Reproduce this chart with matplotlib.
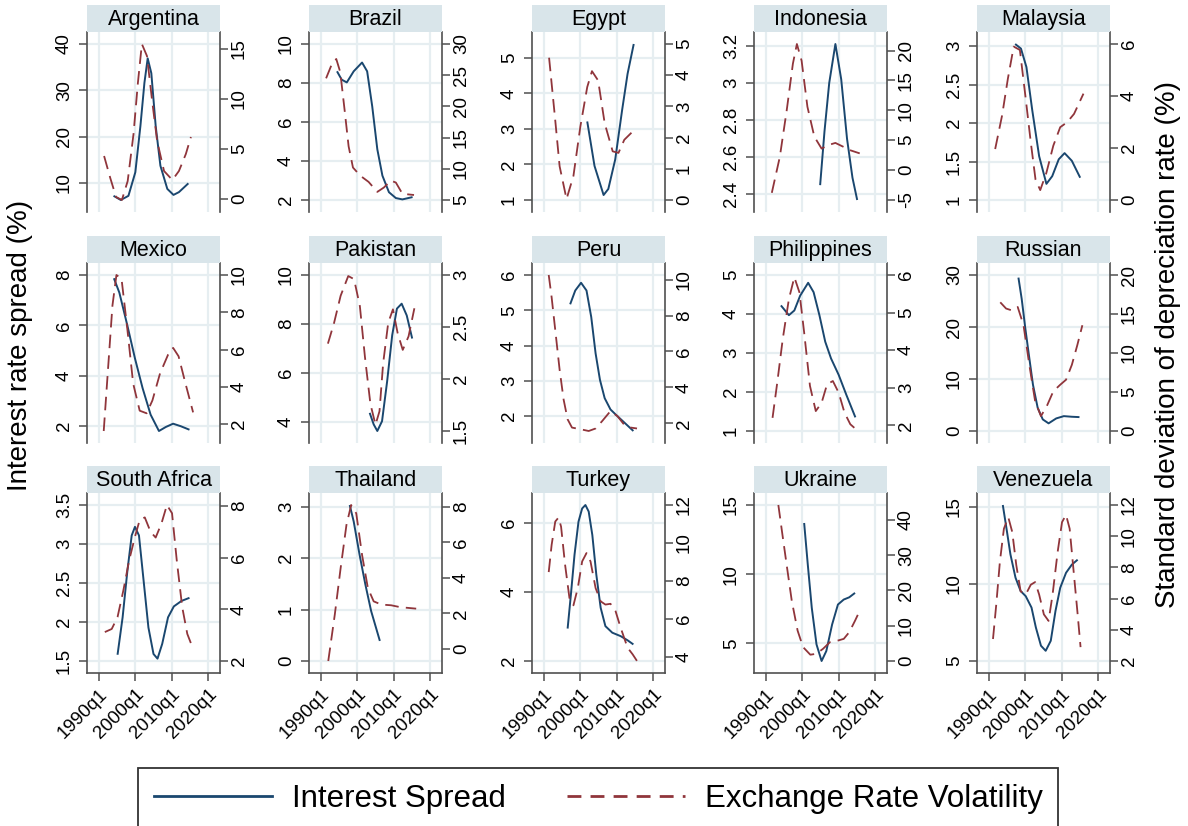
import matplotlib
matplotlib.use("Agg")
import matplotlib.pyplot as plt
from matplotlib.lines import Line2D
from matplotlib.ticker import FuncFormatter

plt.rcParams["font.family"] = ["Liberation Sans", "DejaVu Sans"]
plt.rcParams["axes.unicode_minus"] = False

NAVY = "#1a476f"
MAROON = "#90353b"
STRIP = "#d9e5ea"
GRID = "#e6eef1"
AXIS = "#505050"

# (year, value) pairs
# spread -> left axis (%), vol -> right axis (%)
argentina_spread = [(1994.0, 7.2), (1996.0, 6.3), (1998.1, 7.2), (2000.0, 12.3), (2001.4, 22.3), (2002.5, 31.6),
                    (2003.4, 36.9), (2004.4, 33.7), (2005.6, 22.3), (2006.9, 13.7), (2008.8, 8.7), (2010.5, 7.4),
                    (2012.0, 8.0), (2014.6, 9.9)]
argentina_vol = [(1991.4, 4.3), (1993.1, 2.1), (1994.7, 0.2), (1996.3, -0.1), (1997.9, 1.8), (1999.5, 6.5),
                 (2000.7, 11.6), (2001.8, 15.5), (2003.2, 14.3), (2004.6, 9.9), (2006.0, 5.8), (2007.9, 2.8),
                 (2010.2, 1.9), (2012.0, 2.8), (2013.9, 4.5), (2015.3, 6.2)]

brazil_spread = [(1994.4, 8.6), (1995.7, 8.17), (1997.1, 8.03), (1999.0, 8.6), (2001.3, 9.05), (2002.7, 8.6),
                 (2004.1, 6.8), (2005.5, 4.6), (2006.9, 3.25), (2008.7, 2.4), (2010.6, 2.1), (2012.4, 2.03),
                 (2015.2, 2.15)]
brazil_vol = [(1991.4, 24.5), (1993.0, 26.8), (1994.2, 27.6), (1995.3, 25.5), (1996.5, 19.4), (1997.6, 13.6),
              (1998.8, 10.2), (2000.8, 8.9), (2003.1, 7.9), (2005.5, 6.3), (2007.3, 7.0), (2009.2, 8.1),
              (2010.6, 7.8), (2012.4, 6.0), (2015.6, 5.8)]

egypt_spread = [(2001.9, 3.21), (2003.9, 1.96), (2006.4, 1.14), (2007.7, 1.31), (2009.6, 2.14), (2011.5, 3.53),
                (2013.0, 4.55), (2014.7, 5.39)]
egypt_vol = [(1991.4, 4.56), (1993.0, 2.67), (1994.3, 1.08), (1996.2, 0.03), (1998.1, 0.77), (2000.0, 2.35),
             (2001.9, 3.62), (2003.2, 4.13), (2004.9, 3.83), (2006.7, 2.46), (2008.9, 1.56), (2010.5, 1.51),
             (2012.1, 1.93), (2014.1, 2.16), (2014.9, 2.18)]

indonesia_spread = [(2004.9, 2.45), (2006.1, 2.74), (2007.4, 3.0), (2009.1, 3.21), (2010.7, 3.02), (2012.3, 2.70),
                    (2013.8, 2.49), (2015.1, 2.37)]
indonesia_vol = [(1991.6, -3.8), (1993.8, 2.2), (1995.7, 10.0), (1997.4, 17.8), (1998.5, 21.1), (1999.8, 18.3),
                 (2001.4, 10.6), (2003.3, 5.6), (2005.3, 3.6), (2007.2, 4.2), (2009.1, 4.55), (2011.3, 3.9),
                 (2013.3, 3.3), (2015.8, 2.8)]

malaysia_spread = [(1997.2, 3.03), (1998.8, 2.97), (2000.3, 2.73), (2001.9, 2.17), (2003.8, 1.57), (2005.8, 1.21),
                   (2007.4, 1.31), (2009.2, 1.53), (2010.8, 1.61), (2012.8, 1.51), (2015.1, 1.29)]
malaysia_vol = [(1991.7, 1.96), (1993.6, 3.25), (1995.2, 4.67), (1996.8, 5.9), (1998.5, 5.77), (2000.0, 4.02),
                (2001.5, 2.22), (2002.8, 0.79), (2004.1, 0.38), (2005.8, 1.05), (2007.7, 2.09), (2009.6, 2.8),
                (2011.5, 2.99), (2013.4, 3.31), (2016.0, 4.09)]

mexico_spread = [(1994.1, 7.87), (1995.6, 7.3), (1997.8, 6.0), (1999.9, 4.69), (2002.0, 3.51), (2004.2, 2.46),
                 (2006.5, 1.81), (2008.4, 1.97), (2010.4, 2.1), (2012.5, 2.0), (2014.9, 1.86)]
mexico_vol = [(1991.3, 1.63), (1992.4, 4.72), (1993.7, 8.36), (1994.8, 10.0), (1996.2, 9.8), (1997.8, 7.1),
              (1999.4, 4.18), (2001.2, 2.72), (2003.1, 2.58), (2004.7, 3.27), (2006.8, 4.72), (2009.0, 5.72),
              (2010.4, 6.09), (2011.9, 5.64), (2013.8, 4.18), (2015.9, 2.63)]

pakistan_spread = [(2003.4, 4.38), (2004.5, 3.91), (2005.5, 3.64), (2006.8, 4.04), (2008.2, 5.66), (2009.6, 7.55),
                   (2010.9, 8.63), (2012.2, 8.83), (2013.6, 8.35), (2015.1, 7.41)]
pakistan_vol = [(1991.9, 2.34), (1993.6, 2.54), (1995.4, 2.80), (1997.5, 2.99), (1999.1, 2.96), (2000.7, 2.70),
                (2002.1, 2.21), (2003.6, 1.76), (2005.0, 1.56), (2006.1, 1.69), (2007.1, 2.15), (2008.5, 2.54),
                (2009.8, 2.67), (2011.1, 2.44), (2012.5, 2.28), (2014.1, 2.41), (2015.7, 2.68)]

peru_spread = [(1997.2, 5.17), (1998.6, 5.56), (2000.2, 5.78), (2001.7, 5.56), (2003.0, 4.81), (2004.2, 3.78),
               (2005.4, 3.03), (2006.7, 2.51), (2008.3, 2.19), (2009.7, 2.05), (2012.0, 1.83), (2014.6, 1.58)]
peru_vol = [(1991.3, 10.26), (1992.1, 9.02), (1993.1, 7.19), (1994.3, 4.98), (1995.4, 3.32), (1996.5, 2.22),
            (1997.7, 1.76), (2000.0, 1.67), (2002.3, 1.57), (2004.2, 1.71), (2006.0, 2.12), (2008.3, 2.68),
            (2010.2, 2.40), (2012.0, 1.94), (2013.9, 1.76), (2015.6, 1.71)]

philippines_spread = [(1994.1, 4.22), (1996.3, 3.97), (1997.8, 4.09), (1999.4, 4.47), (2001.6, 4.8), (2003.1, 4.56),
                      (2004.7, 3.97), (2006.3, 3.29), (2007.9, 2.86), (2010.0, 2.44), (2012.1, 1.93), (2014.6, 1.35)]
philippines_vol = [(1991.8, 2.2), (1993.1, 3.14), (1994.6, 4.29), (1996.3, 5.36), (1997.8, 5.94), (1999.2, 5.54),
                   (2000.5, 4.47), (2002.1, 3.05), (2003.7, 2.38), (2005.3, 2.6), (2006.8, 3.09), (2008.4, 3.18),
                   (2010.0, 2.87), (2011.6, 2.34), (2013.2, 2.03), (2015.3, 1.85)]

russian_spread = [(1998.1, 29.5), (1999.0, 25.4), (2000.0, 19.7), (2001.1, 14.0), (2002.1, 8.9), (2003.4, 4.46),
                  (2004.8, 2.23), (2006.4, 1.47), (2008.5, 2.42), (2010.6, 2.86), (2012.8, 2.74), (2014.9, 2.67)]
russian_vol = [(1993.1, 16.5), (1994.7, 15.7), (1996.3, 15.46), (1997.9, 15.9), (1999.5, 13.56), (2001.1, 8.48),
               (2002.7, 3.81), (2004.3, 1.91), (2005.9, 3.18), (2007.7, 5.09), (2009.6, 5.93), (2011.2, 6.57),
               (2012.8, 8.48), (2014.3, 11.0), (2015.7, 13.56)]

south_africa_spread = [(1995.1, 1.58), (1996.5, 2.06), (1997.8, 2.65), (1999.0, 3.11), (1999.9, 3.22), (2001.0, 3.11),
                       (2002.3, 2.52), (2003.6, 1.93), (2005.0, 1.59), (2006.1, 1.53), (2007.4, 1.72), (2009.0, 2.06),
                       (2010.6, 2.2), (2012.7, 2.27), (2014.9, 2.31)]
south_africa_vol = [(1991.6, 3.12), (1993.5, 3.24), (1995.1, 3.7), (1996.7, 4.73), (1998.3, 5.9), (1999.9, 6.81),
                    (2001.2, 7.46), (2002.6, 7.56), (2004.2, 7.0), (2005.6, 6.78), (2007.2, 7.33), (2008.7, 8.04),
                    (2010.1, 7.72), (2011.4, 5.9), (2012.9, 4.09), (2014.3, 3.05), (2015.9, 2.47)]

thailand_spread = [(1997.9, 3.03), (1999.0, 2.71), (2000.6, 2.07), (2002.2, 1.49), (2003.8, 0.97), (2006.2, 0.39)]
thailand_vol = [(1992.0, -0.69), (1993.8, 1.93), (1995.4, 4.54), (1997.0, 6.97), (1998.3, 8.1), (1999.7, 7.63),
                (2001.3, 5.29), (2002.9, 3.42), (2004.5, 2.67), (2006.6, 2.49), (2009.3, 2.45), (2011.9, 2.34),
                (2014.1, 2.3), (2016.2, 2.26)]

turkey_spread = [(1996.5, 2.94), (1997.4, 3.92), (1998.4, 5.08), (1999.5, 6.04), (2000.5, 6.42), (2001.4, 6.52),
                 (2002.3, 6.33), (2003.3, 5.65), (2004.4, 4.5), (2005.6, 3.54), (2006.9, 3.01), (2008.8, 2.82),
                 (2011.1, 2.72), (2013.0, 2.6), (2014.6, 2.48)]
turkey_vol = [(1991.3, 8.47), (1992.1, 9.9), (1993.1, 11.13), (1994.0, 11.34), (1994.7, 10.86), (1995.8, 8.86),
              (1997.0, 7.11), (1998.1, 6.72), (1999.3, 7.63), (2000.5, 9.03), (2001.7, 9.47), (2002.8, 9.03),
              (2004.2, 7.63), (2005.6, 6.93), (2006.9, 6.76), (2008.3, 6.8), (2009.7, 6.41), (2011.1, 5.54),
              (2013.0, 4.49), (2014.4, 4.14), (2015.6, 3.79)]

ukraine_spread = [(2000.5, 13.7), (2001.5, 10.7), (2002.6, 7.57), (2003.9, 4.93), (2005.3, 3.73), (2006.6, 4.45),
                  (2008.2, 6.37), (2009.8, 7.81), (2011.4, 8.17), (2012.9, 8.33), (2014.5, 8.65)]
ukraine_vol = [(1993.4, 44.2), (1994.4, 36.7), (1995.8, 26.4), (1997.1, 17.0), (1998.7, 8.6), (2000.2, 3.94),
               (2002.2, 1.78), (2003.9, 2.06), (2005.7, 3.46), (2007.6, 5.34), (2009.8, 5.8), (2011.4, 6.27),
               (2012.9, 8.15), (2014.5, 11.4), (2015.6, 13.8)]

venezuela_spread = [(1993.8, 15.1), (1994.8, 13.6), (1995.9, 11.9), (1997.3, 10.39), (1998.7, 9.53), (2000.1, 9.2),
                    (2001.7, 8.46), (2002.9, 7.17), (2004.3, 5.99), (2005.6, 5.66), (2007.0, 6.31), (2008.3, 8.24),
                    (2009.6, 9.74), (2011.2, 10.71), (2012.8, 11.24), (2014.4, 11.56)]
venezuela_vol = [(1991.1, 3.41), (1992.0, 5.63), (1993.0, 8.37), (1994.1, 10.48), (1995.3, 11.22), (1996.4, 10.27),
                 (1997.5, 8.16), (1998.7, 6.47), (2000.1, 6.26), (2001.5, 6.89), (2002.7, 7.06), (2003.8, 6.26),
                 (2005.1, 4.99), (2006.4, 4.57), (2007.5, 6.26), (2008.9, 9.0), (2010.1, 10.9), (2011.2, 11.37),
                 (2012.2, 10.48), (2013.3, 7.73), (2014.4, 4.99), (2015.2, 2.89)]

# (left ticks, right ticks) per panel
argentina_ticks = ([10, 20, 30, 40], [0, 5, 10, 15])
brazil_ticks = ([2, 4, 6, 8, 10], [5, 10, 15, 20, 25, 30])
egypt_ticks = ([1, 2, 3, 4, 5], [0, 1, 2, 3, 4, 5])
indonesia_ticks = ([2.4, 2.6, 2.8, 3, 3.2], [-5, 0, 5, 10, 15, 20])
malaysia_ticks = ([1, 1.5, 2, 2.5, 3], [0, 2, 4, 6])
mexico_ticks = ([2, 4, 6, 8], [2, 4, 6, 8, 10])
pakistan_ticks = ([4, 6, 8, 10], [1.5, 2, 2.5, 3])
peru_ticks = ([2, 3, 4, 5, 6], [2, 4, 6, 8, 10])
philippines_ticks = ([1, 2, 3, 4, 5], [2, 3, 4, 5, 6])
russian_ticks = ([0, 10, 20, 30], [0, 5, 10, 15, 20])
south_africa_ticks = ([1.5, 2, 2.5, 3, 3.5], [2, 4, 6, 8])
thailand_ticks = ([0, 1, 2, 3], [0, 2, 4, 6, 8])
turkey_ticks = ([2, 4, 6], [4, 6, 8, 10, 12])
ukraine_ticks = ([5, 10, 15], [0, 10, 20, 30, 40])
venezuela_ticks = ([5, 10, 15], [2, 4, 6, 8, 10, 12])

year_ticks = [1990, 2000, 2010, 2020]
year_labels = ["1990q1", "2000q1", "2010q1", "2020q1"]

panels = [
    ("Argentina", argentina_spread, argentina_vol, argentina_ticks),
    ("Brazil", brazil_spread, brazil_vol, brazil_ticks),
    ("Egypt", egypt_spread, egypt_vol, egypt_ticks),
    ("Indonesia", indonesia_spread, indonesia_vol, indonesia_ticks),
    ("Malaysia", malaysia_spread, malaysia_vol, malaysia_ticks),
    ("Mexico", mexico_spread, mexico_vol, mexico_ticks),
    ("Pakistan", pakistan_spread, pakistan_vol, pakistan_ticks),
    ("Peru", peru_spread, peru_vol, peru_ticks),
    ("Philippines", philippines_spread, philippines_vol, philippines_ticks),
    ("Russian", russian_spread, russian_vol, russian_ticks),
    ("South Africa", south_africa_spread, south_africa_vol, south_africa_ticks),
    ("Thailand", thailand_spread, thailand_vol, thailand_ticks),
    ("Turkey", turkey_spread, turkey_vol, turkey_ticks),
    ("Ukraine", ukraine_spread, ukraine_vol, ukraine_ticks),
    ("Venezuela", venezuela_spread, venezuela_vol, venezuela_ticks),
]

# layout in pixels
W, H = 1188, 826
col_left = [87, 309, 532, 754, 977]
row_top = [32, 263, 493]
pw, ph, strip_h = 133, 180, 27
MARGIN = 12  # plot region margin in px


def padded(values, ticks, length):
    lo = min(min(values), ticks[0])
    hi = max(max(values), ticks[-1])
    pad = (hi - lo) * MARGIN / (length - 2 * MARGIN)
    return lo - pad, hi + pad


fmt = FuncFormatter(lambda v, _: f"{v:g}")

fig = plt.figure(figsize=(W / 100, H / 100), dpi=100)

for i, (name, spread, vol, (lticks, rticks)) in enumerate(panels):
    r, c = divmod(i, 5)
    left, top = col_left[c], row_top[r]
    ax = fig.add_axes([left / W, 1 - (top + ph) / H, pw / W, ph / H])
    ax2 = ax.twinx()

    # title strip
    sax = fig.add_axes([left / W, 1 - top / H, pw / W, strip_h / H])
    sax.set_facecolor(STRIP)
    sax.set_xticks([])
    sax.set_yticks([])
    for s in sax.spines.values():
        s.set_visible(False)
    sax.text(0.5, 0.45, name, ha="center", va="center", fontsize=15.5, transform=sax.transAxes)

    xs, ys = zip(*spread)
    ax.plot(xs, ys, color=NAVY, lw=1.4, solid_capstyle="butt")
    xv, yv = zip(*vol)
    ax2.plot(xv, yv, color=MAROON, lw=1.3, linestyle=(0, (7.5, 4)))

    xpad = (year_ticks[-1] - year_ticks[0]) * MARGIN / (pw - 2 * MARGIN)
    ax.set_xlim(year_ticks[0] - xpad, year_ticks[-1] + xpad)
    ax.set_ylim(padded(ys, lticks, ph))
    ax2.set_ylim(padded(yv, rticks, ph))

    ax.set_yticks(lticks)
    ax2.set_yticks(rticks)
    ax.yaxis.set_major_formatter(fmt)
    ax2.yaxis.set_major_formatter(fmt)
    ax.set_xticks(year_ticks)

    ax.grid(True, color=GRID, lw=1.6)
    ax.set_axisbelow(True)

    for a in (ax, ax2):
        for s in a.spines.values():
            s.set_visible(False)
    ax.spines["left"].set_visible(True)
    ax2.spines["right"].set_visible(True)
    ax.spines["left"].set_color(AXIS)
    ax2.spines["right"].set_color(AXIS)
    ax.spines["left"].set_linewidth(1.2)
    ax2.spines["right"].set_linewidth(1.2)

    ax.tick_params(axis="y", labelsize=13.5, labelrotation=90, length=6, width=1.1, color=AXIS, pad=4)
    ax2.tick_params(axis="y", labelsize=13.5, labelrotation=90, length=6, width=1.1, color=AXIS, pad=2)
    for lab in ax.get_yticklabels() + ax2.get_yticklabels():
        lab.set_va("center")

    if r == 2:
        ax.spines["bottom"].set_visible(True)
        ax.spines["bottom"].set_color(AXIS)
        ax.spines["bottom"].set_linewidth(1.2)
        ax.set_xticklabels(year_labels)
        ax.tick_params(axis="x", labelsize=13.5, length=6, width=1.1, color=AXIS, pad=3)
        for lab in ax.get_xticklabels():
            lab.set_rotation(45)
            lab.set_ha("right")
            lab.set_va("top")
            lab.set_rotation_mode("anchor")
    else:
        ax.tick_params(axis="x", length=0, labelbottom=False)

fig.text(20 / W, 1 - 345 / H, "Interest rate spread (%)", rotation=90, ha="center", va="center", fontsize=20)
fig.text(1168 / W, 1 - 345 / H, "Standard deviation of depreciation rate (%)", rotation=90,
         ha="center", va="center", fontsize=20)

handles = [
    Line2D([], [], color=NAVY, lw=2),
    Line2D([], [], color=MAROON, lw=2, linestyle=(0, (5, 3.3))),
]
leg = fig.legend(handles, ["Interest Spread", "Exchange Rate Volatility"], loc="upper left",
                 bbox_to_anchor=(138 / W, 1 - 768 / H), ncol=2, fontsize=22.5, frameon=True,
                 fancybox=False, edgecolor="black", handlelength=3.8, handletextpad=0.62,
                 columnspacing=1.95, borderpad=0.5, borderaxespad=0)
leg.get_frame().set_linewidth(1.3)

fig.savefig("out.png", dpi=100)
